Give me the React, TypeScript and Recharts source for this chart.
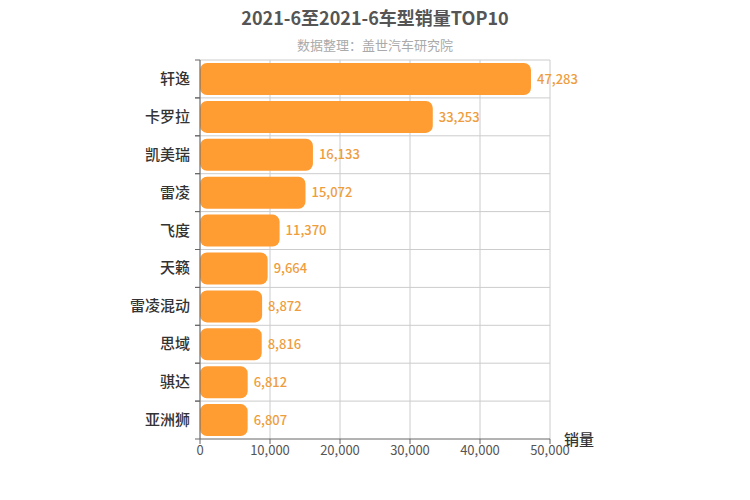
import { BarChart, Bar, XAxis, YAxis, CartesianGrid, LabelList } from 'recharts';

const models = ['轩逸', '卡罗拉', '凯美瑞', '雷凌', '飞度', '天籁', '雷凌混动', '思域', '骐达', '亚洲狮'];
const sales = [47283, 33253, 16133, 15072, 11370, 9664, 8872, 8816, 6812, 6807];
const xTicks = [0, 10000, 20000, 30000, 40000, 50000];

const data = models.map((name, i) => ({ name, sales: sales[i] }));

const FONT = '"Noto Sans CJK SC", "Noto Sans", sans-serif';
const fmt = (v: number) => v.toLocaleString('en-US');

// category tick: label at band centre, tick marks at band edges
function CategoryTick(props: any) {
  const { x, y, payload, bandSize } = props;
  const half = (bandSize ?? 38) / 2;
  return (
    <g>
      <line x1={x + 3} x2={x + 8} y1={y - half} y2={y - half} stroke="#666" />
      <line x1={x + 3} x2={x + 8} y1={y + half} y2={y + half} stroke="#666" />
      <text x={x - 2} y={y} dy={5} textAnchor="end" fill="#333" fontSize={15} fontWeight={500} fontFamily={FONT}>
        {payload.value}
      </text>
    </g>
  );
}

export default function App() {
  return (
    <div style={{ position: 'absolute', left: 0, top: 0, width: 750, height: 500, background: '#fff', fontFamily: FONT }}>
      <div style={{ position: 'absolute', top: 4, width: 750, textAlign: 'center', fontSize: 18, fontWeight: 'bold', color: '#555' }}>
        2021-6至2021-6车型销量TOP10
      </div>
      <div style={{ position: 'absolute', top: 35, width: 750, textAlign: 'center', fontSize: 13, color: '#aaa' }}>
        数据整理：盖世汽车研究院
      </div>
      <div style={{ position: 'absolute', left: 564, top: 428, fontSize: 15, fontWeight: 500, color: '#333' }}>销量</div>
      <BarChart
        width={750}
        height={500}
        data={data}
        layout="vertical"
        margin={{ top: 60, right: 200, left: 0, bottom: 31 }}
        barCategoryGap={3}
      >
        <CartesianGrid
          stroke="#ccc"
          horizontalCoordinatesGenerator={({ offset }: any) => {
            const step = offset.height / models.length;
            return models.map((_, i) => offset.top + step * i);
          }}
        />
        <XAxis
          type="number"
          domain={[0, 50000]}
          ticks={xTicks}
          tickFormatter={fmt}
          stroke="#666"
          tick={{ fill: '#555', fontSize: 13, fontFamily: FONT }}
          tickSize={5}
        />
        <YAxis
          type="category"
          dataKey="name"
          width={200}
          stroke="#666"
          tickLine={false}
          tick={(p: any) => <CategoryTick {...p} bandSize={379 / models.length} />}
        />
        <Bar dataKey="sales" fill="#FF9D33" radius={7} barSize={32} isAnimationActive={false}>
          <LabelList
            dataKey="sales"
            position="right"
            offset={6}
            formatter={fmt}
            fill="#EE9D3E"
            fontSize={13}
            fontWeight={500}
            fontFamily={FONT}
          />
        </Bar>
      </BarChart>
    </div>
  );
}
